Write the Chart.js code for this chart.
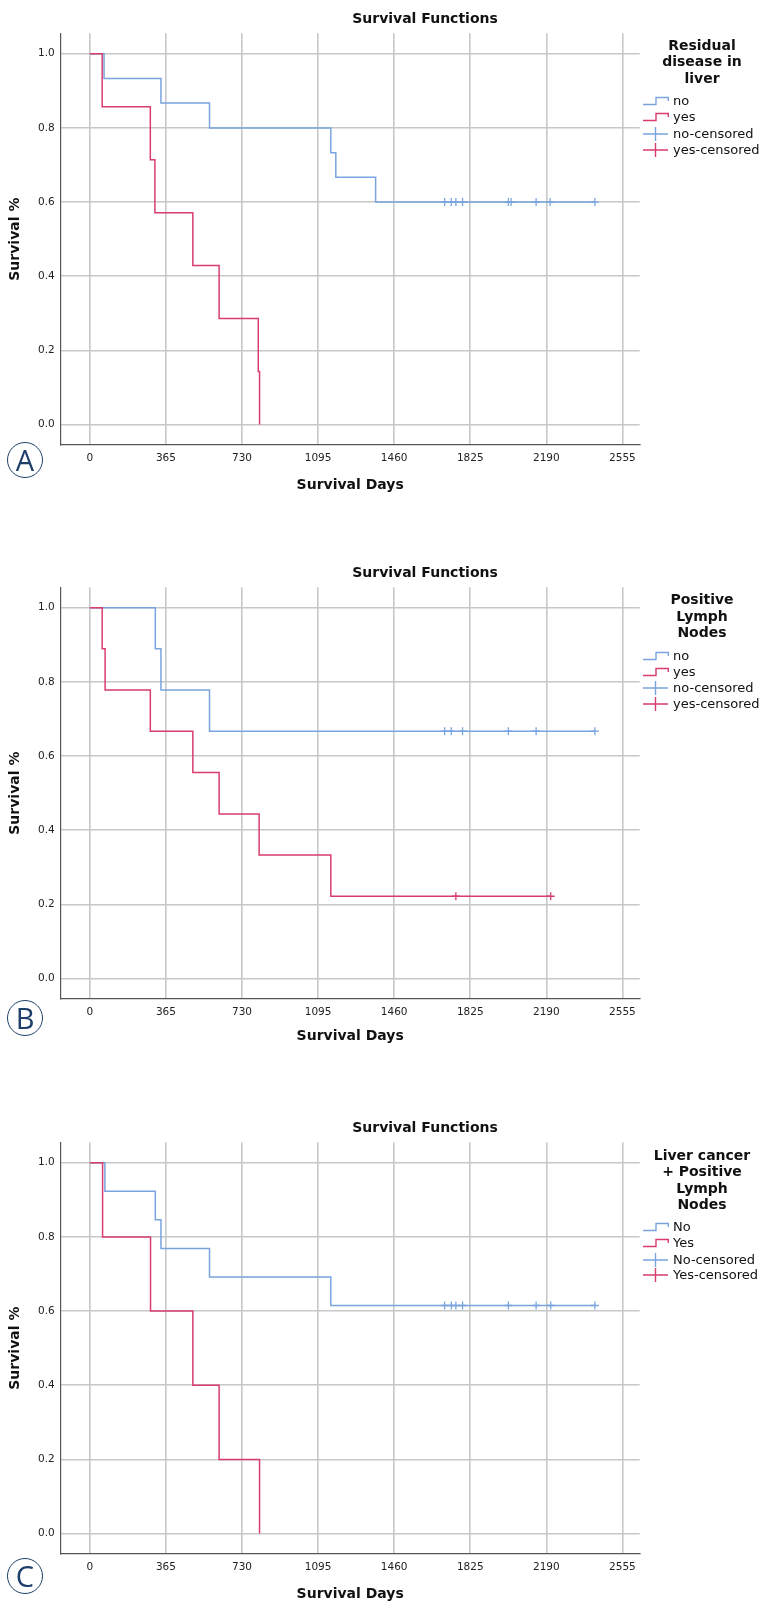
<!DOCTYPE html>
<html>
<head>
<meta charset="utf-8">
<script src="https://cdn.jsdelivr.net/npm/chart.js@4.4.1/dist/chart.umd.min.js"></script>
<style>
    body { margin: 0; background: #fff; width: 761px; height: 1604px; position: relative; overflow: hidden; font-family: "DejaVu Sans", sans-serif; color: #111; }
    canvas { position: absolute; left: 0; }
    .title { position: absolute; left: 325px; width: 200px; text-align: center; font: bold 14px "DejaVu Sans"; line-height: 16px; }
    .leg-title { position: absolute; left: 642px; width: 120px; text-align: center; font: bold 14px "DejaVu Sans"; line-height: 16.6px; }
    .leg-row { position: absolute; left: 643px; height: 16px; font: 13px "DejaVu Sans"; line-height: 16px; white-space: nowrap; }
    .leg-row svg { position: absolute; left: 0; top: 0; }
    .leg-row span { position: absolute; left: 30px; top: 0; }
    .badge { position: absolute; left: 7px; width: 34px; height: 34px; border: 1.8px solid #1f3f6b; border-radius: 50%;
             color: #1f3f6b; font: 29px "Open Sans"; line-height: 34px; text-align: center; }
</style>
</head>
<body>
<script>
// axis ticks shared by the three panels
const xTicks = [0, 365, 730, 1095, 1460, 1825, 2190, 2555];
const yTicks = [0, 0.2, 0.4, 0.6, 0.8, 1.0];

// A - residual disease in liver
const aNoDays = [0, 68, 341, 574, 1156, 1180, 1371, 2423];
const aNoSurv = [1, 0.933, 0.867, 0.8, 0.733, 0.667, 0.6, 0.6];
const aNoCensDays = [1702, 1734, 1756, 1788, 2008, 2021, 2141, 2208, 2423];
const aNoCensSurv = [0.6, 0.6, 0.6, 0.6, 0.6, 0.6, 0.6, 0.6, 0.6];
const aYesDays = [0, 59, 290, 312, 494, 620, 808, 814];
const aYesSurv = [1, 0.857, 0.714, 0.571, 0.429, 0.286, 0.143, 0];
const aYesCensDays = [];
const aYesCensSurv = [];

// B - positive lymph nodes
const bNoDays = [0, 314, 341, 574, 2423];
const bNoSurv = [1, 0.889, 0.778, 0.667, 0.667];
const bNoCensDays = [1702, 1734, 1788, 2008, 2141, 2423];
const bNoCensSurv = [0.667, 0.667, 0.667, 0.667, 0.667, 0.667];
const bYesDays = [0, 59, 73, 290, 494, 620, 812, 1156, 2211];
const bYesSurv = [1, 0.889, 0.778, 0.667, 0.556, 0.444, 0.333, 0.222, 0.222];
const bYesCensDays = [1756, 2211];
const bYesCensSurv = [0.222, 0.222];

// C - liver cancer + positive lymph nodes
const cNoDays = [0, 72, 314, 341, 574, 1156, 2423];
const cNoSurv = [1, 0.923, 0.846, 0.769, 0.692, 0.615, 0.615];
const cNoCensDays = [1702, 1734, 1756, 1788, 2008, 2141, 2211, 2423];
const cNoCensSurv = [0.615, 0.615, 0.615, 0.615, 0.615, 0.615, 0.615, 0.615];
const cYesDays = [0, 61, 291, 494, 620, 814];
const cYesSurv = [1, 0.8, 0.6, 0.4, 0.2, 0];
const cYesCensDays = [];
const cYesCensSurv = [];

const BLUE = '#79a4de';
const RED = '#d83d6c';

const panels = [
    { badge: 'A', plotTop: 30.7, plotBottom: 445, titleY: 18, axisTitleY: 486, badgeY: 460.7,
      legTitle: ['Residual', 'disease in', 'liver'], legTitleY: 45, legRowY: [101, 117.3, 133.6, 149.6],
      legLabels: ['no', 'yes', 'no-censored', 'yes-censored'],
      no: [aNoDays, aNoSurv, aNoCensDays, aNoCensSurv], yes: [aYesDays, aYesSurv, aYesCensDays, aYesCensSurv] },
    { badge: 'B', plotTop: 585, plotBottom: 999, titleY: 571.7, axisTitleY: 1037, badgeY: 1019,
      legTitle: ['Positive', 'Lymph', 'Nodes'], legTitleY: 599.3, legRowY: [655.7, 672, 688, 703.6],
      legLabels: ['no', 'yes', 'no-censored', 'yes-censored'],
      no: [bNoDays, bNoSurv, bNoCensDays, bNoCensSurv], yes: [bYesDays, bYesSurv, bYesCensDays, bYesCensSurv] },
    { badge: 'C', plotTop: 1140, plotBottom: 1554, titleY: 1127, axisTitleY: 1595, badgeY: 1577,
      legTitle: ['Liver cancer', '+ Positive', 'Lymph', 'Nodes'], legTitleY: 1155, legRowY: [1226.7, 1243.3, 1259.7, 1275],
      legLabels: ['No', 'Yes', 'No-censored', 'Yes-censored'],
      no: [cNoDays, cNoSurv, cNoCensDays, cNoCensSurv], yes: [cYesDays, cYesSurv, cYesCensDays, cYesCensSurv] }
];

const toPoints = (xs, ys) => xs.map((x, i) => ({ x, y: ys[i] }));

const stepIcon = c => `<svg width="26" height="16"><path d="M0 11.5 H13 V4.5 H25.3 V8" fill="none" stroke="${c}" stroke-width="1.4"/></svg>`;
const crossIcon = c => `<svg width="26" height="16"><path d="M0 8 H25 M12.5 1 V15" fill="none" stroke="${c}" stroke-width="1.4"/></svg>`;

function addDiv(cls, html, top) {
    const d = document.createElement('div');
    d.className = cls;
    d.innerHTML = html;
    d.style.top = top + 'px';
    document.body.appendChild(d);
    return d;
}

function drawPanel(p) {
    const canvasTop = p.plotTop - 10;
    const xH = p.axisTitleY - p.plotBottom + 10;
    const canvas = document.createElement('canvas');
    canvas.width = 645;
    canvas.height = p.plotBottom - canvasTop + xH;
    canvas.style.top = canvasTop + 'px';
    document.body.appendChild(canvas);

    const lineSet = (pts, color) => ({
        data: pts, showLine: true, stepped: true, borderColor: color, borderWidth: 1.5,
        pointRadius: 0, fill: false
    });
    const censSet = (pts, color) => ({
        data: pts, showLine: false, pointStyle: 'cross', pointRadius: 4,
        borderColor: color, pointBorderWidth: 1.3
    });

    new Chart(canvas, {
        type: 'scatter',
        data: {
            datasets: [
                censSet(toPoints(p.yes[2], p.yes[3]), RED),
                lineSet(toPoints(p.yes[0], p.yes[1]), RED),
                censSet(toPoints(p.no[2], p.no[3]), BLUE),
                lineSet(toPoints(p.no[0], p.no[1]), BLUE)
            ]
        },
        options: {
            responsive: false,
            animation: false,
            devicePixelRatio: 1,
            layout: { padding: { top: 10, right: 3, left: 0, bottom: 0 } },
            plugins: { legend: { display: false }, tooltip: { enabled: false } },
            scales: {
                x: {
                    type: 'linear', min: -140, max: 2638,
                    afterBuildTicks: s => { s.ticks = xTicks.map(v => ({ value: v })); },
                    afterFit: s => { s.height = xH; },
                    grid: { color: '#c8c8c8', lineWidth: 1.6, drawTicks: false },
                    border: { color: '#555', width: 1.2 },
                    ticks: { padding: 7, color: '#222', autoSkip: false, maxRotation: 0,
                             callback: v => String(v),
                             font: { family: 'DejaVu Sans', size: 10.5 } },
                    title: { display: true, text: 'Survival Days', color: '#111', padding: { top: 0, bottom: 2 },
                             font: { family: 'DejaVu Sans', size: 14, weight: 'bold' } }
                },
                y: {
                    type: 'linear', min: -0.055, max: 1.055,
                    afterBuildTicks: s => { s.ticks = yTicks.map(v => ({ value: v })); },
                    afterFit: s => { s.width = 60.7; },
                    grid: { color: '#c8c8c8', lineWidth: 1.6, drawTicks: false },
                    border: { color: '#555', width: 1.2 },
                    ticks: { padding: 6, color: '#222', callback: v => v.toFixed(1),
                             font: { family: 'DejaVu Sans', size: 10.5 } },
                    title: { display: true, text: 'Survival %', color: '#111', padding: { top: 6.6, bottom: 0 },
                             font: { family: 'DejaVu Sans', size: 14, weight: 'bold' } }
                }
            }
        }
    });

    // panel title, legend and letter badge
    addDiv('title', 'Survival Functions', p.titleY - 8);
    addDiv('leg-title', p.legTitle.join('<br>'), p.legTitleY - 8.3);
    const icons = [stepIcon(BLUE), stepIcon(RED), crossIcon(BLUE), crossIcon(RED)];
    p.legLabels.forEach((label, i) => {
        addDiv('leg-row', icons[i] + '<span>' + label + '</span>', p.legRowY[i] - 8);
    });
    addDiv('badge', p.badge, p.badgeY - 18.8);
}

panels.forEach(drawPanel);
</script>
</body>
</html>
